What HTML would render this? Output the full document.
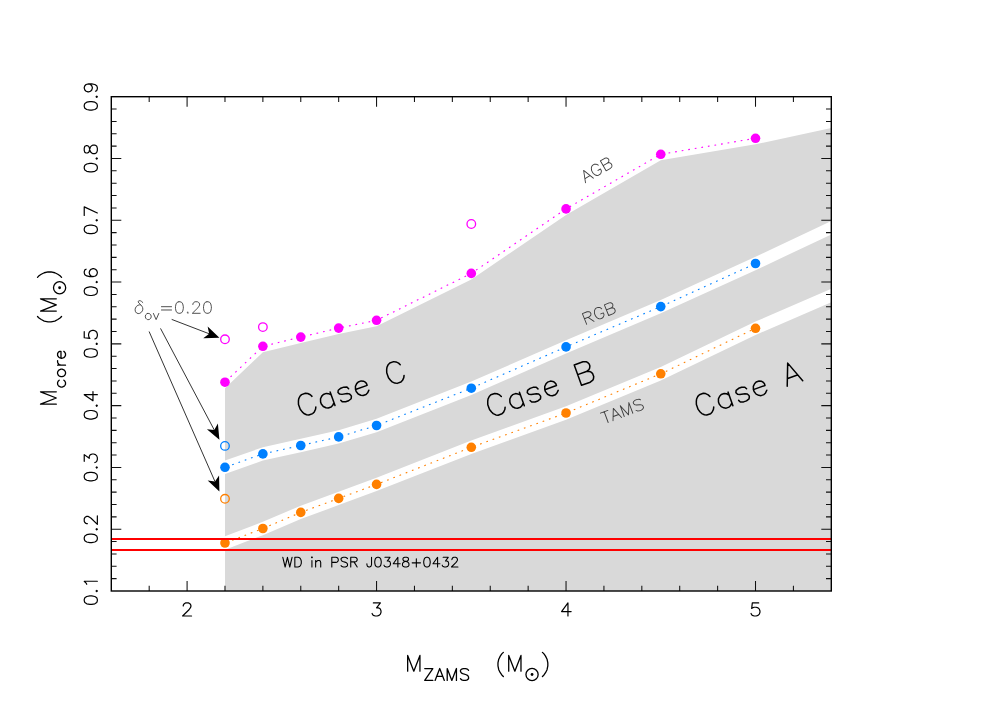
<!DOCTYPE html>
<html lang="en"><head><meta charset="utf-8"><title>Mcore vs MZAMS</title>
<style>html,body{margin:0;padding:0;background:#fff;font-family:"Liberation Sans",sans-serif;}svg{display:block}</style></head>
<body>
<svg width="1002" height="708" viewBox="0 0 1002 708">
<title>Core mass versus ZAMS mass: Case A, Case B, Case C regions</title>
<desc>M_core (M⊙) versus M_ZAMS (M⊙) with TAMS, RGB and AGB core-mass curves, δ_ov=0.20 models, and the WD in PSR J0348+0432.</desc>
<rect width="1002" height="708" fill="#fff"/>
<polygon points="225,591 225,549.7 262.88,535.2 300.77,519.1 338.67,505.1 376.56,491.1 471.3,454 566.04,419.7 660.77,380.5 755.51,335 831.3,302.2 831.3,591" fill="#d9d9d9"/>
<polygon points="225,536.3 262.88,521.8 300.77,505.7 338.67,491.7 376.56,477.7 471.3,440.6 566.04,406.3 660.77,367.1 755.51,321.6 831.3,288.8 831.3,234.4 755.51,270.2 660.77,313.3 566.04,353.6 471.3,394.9 376.56,432.2 338.67,443.6 300.77,452.2 262.88,460.6 225,474" fill="#d9d9d9"/>
<polygon points="225,460.6 262.88,447.2 300.77,438.8 338.67,430.2 376.56,418.8 471.3,381.5 566.04,340.2 660.77,299.9 755.51,256.8 831.3,221 831.3,127.9 755.51,144.3 660.77,160.3 566.04,214.9 471.3,279.4 376.56,326.3 338.67,334.1 300.77,343.1 262.88,352.3 225,388.2" fill="#d9d9d9"/>
<polyline points="224.98,382.2 262.88,346.3 300.77,337.1 338.67,328.1 376.56,320.3 471.3,273.4 566.04,208.9 660.77,154.3 755.51,138.3" fill="none" stroke="#ff00ff" stroke-width="1.1" stroke-dasharray="1.7 4.95" stroke-dashoffset="-1.0"/>
<polyline points="224.98,467.3 262.88,453.9 300.77,445.5 338.67,436.9 376.56,425.5 471.3,388.2 566.04,346.9 660.77,306.6 755.51,263.5" fill="none" stroke="#0080ff" stroke-width="1.1" stroke-dasharray="1.7 4.95" stroke-dashoffset="-1.0"/>
<polyline points="224.98,543 262.88,528.5 300.77,512.4 338.67,498.4 376.56,484.4 471.3,447.3 566.04,413 660.77,373.8 755.51,328.3" fill="none" stroke="#ff8000" stroke-width="1.1" stroke-dasharray="1.7 4.95" stroke-dashoffset="-1.0"/>
<circle cx="224.98" cy="382.2" r="4.8" fill="#ff00ff"/><circle cx="262.88" cy="346.3" r="4.8" fill="#ff00ff"/><circle cx="300.77" cy="337.1" r="4.8" fill="#ff00ff"/><circle cx="338.67" cy="328.1" r="4.8" fill="#ff00ff"/><circle cx="376.56" cy="320.3" r="4.8" fill="#ff00ff"/><circle cx="471.3" cy="273.4" r="4.8" fill="#ff00ff"/><circle cx="566.04" cy="208.9" r="4.8" fill="#ff00ff"/><circle cx="660.77" cy="154.3" r="4.8" fill="#ff00ff"/><circle cx="755.51" cy="138.3" r="4.8" fill="#ff00ff"/>
<circle cx="224.98" cy="467.3" r="4.8" fill="#0080ff"/><circle cx="262.88" cy="453.9" r="4.8" fill="#0080ff"/><circle cx="300.77" cy="445.5" r="4.8" fill="#0080ff"/><circle cx="338.67" cy="436.9" r="4.8" fill="#0080ff"/><circle cx="376.56" cy="425.5" r="4.8" fill="#0080ff"/><circle cx="471.3" cy="388.2" r="4.8" fill="#0080ff"/><circle cx="566.04" cy="346.9" r="4.8" fill="#0080ff"/><circle cx="660.77" cy="306.6" r="4.8" fill="#0080ff"/><circle cx="755.51" cy="263.5" r="4.8" fill="#0080ff"/>
<circle cx="224.98" cy="543" r="4.8" fill="#ff8000"/><circle cx="262.88" cy="528.5" r="4.8" fill="#ff8000"/><circle cx="300.77" cy="512.4" r="4.8" fill="#ff8000"/><circle cx="338.67" cy="498.4" r="4.8" fill="#ff8000"/><circle cx="376.56" cy="484.4" r="4.8" fill="#ff8000"/><circle cx="471.3" cy="447.3" r="4.8" fill="#ff8000"/><circle cx="566.04" cy="413" r="4.8" fill="#ff8000"/><circle cx="660.77" cy="373.8" r="4.8" fill="#ff8000"/><circle cx="755.51" cy="328.3" r="4.8" fill="#ff8000"/>
<circle cx="224.98" cy="339.3" r="4.3" fill="none" stroke="#ff00ff" stroke-width="1.3"/><circle cx="262.88" cy="327.1" r="4.3" fill="none" stroke="#ff00ff" stroke-width="1.3"/><circle cx="471.3" cy="224" r="4.3" fill="none" stroke="#ff00ff" stroke-width="1.3"/>
<circle cx="224.98" cy="445.9" r="4.3" fill="none" stroke="#0080ff" stroke-width="1.3"/>
<circle cx="224.98" cy="498.8" r="4.3" fill="none" stroke="#ff8000" stroke-width="1.3"/>
<line x1="111.3" y1="539.0" x2="831.3" y2="539.0" stroke="#ff0000" stroke-width="2"/>
<line x1="111.3" y1="550.0" x2="831.3" y2="550.0" stroke="#ff0000" stroke-width="2"/>
<path d="M149.19 591.0v-5.3M149.19 96.7v5.3M187.09 591.0v-10.0M187.09 96.7v10.0M224.98 591.0v-5.3M224.98 96.7v5.3M262.88 591.0v-5.3M262.88 96.7v5.3M300.77 591.0v-5.3M300.77 96.7v5.3M338.67 591.0v-5.3M338.67 96.7v5.3M376.56 591.0v-10.0M376.56 96.7v10.0M414.46 591.0v-5.3M414.46 96.7v5.3M452.35 591.0v-5.3M452.35 96.7v5.3M490.25 591.0v-5.3M490.25 96.7v5.3M528.14 591.0v-5.3M528.14 96.7v5.3M566.04 591.0v-10.0M566.04 96.7v10.0M603.93 591.0v-5.3M603.93 96.7v5.3M641.83 591.0v-5.3M641.83 96.7v5.3M679.72 591.0v-5.3M679.72 96.7v5.3M717.62 591.0v-5.3M717.62 96.7v5.3M755.51 591.0v-10.0M755.51 96.7v10.0M793.41 591.0v-5.3M793.41 96.7v5.3M111.3 578.64h5.3M831.3 578.64h-5.3M111.3 566.28h5.3M831.3 566.28h-5.3M111.3 553.93h5.3M831.3 553.93h-5.3M111.3 541.57h5.3M831.3 541.57h-5.3M111.3 529.21h10.0M831.3 529.21h-10.0M111.3 516.86h5.3M831.3 516.86h-5.3M111.3 504.5h5.3M831.3 504.5h-5.3M111.3 492.14h5.3M831.3 492.14h-5.3M111.3 479.78h5.3M831.3 479.78h-5.3M111.3 467.42h10.0M831.3 467.42h-10.0M111.3 455.07h5.3M831.3 455.07h-5.3M111.3 442.71h5.3M831.3 442.71h-5.3M111.3 430.35h5.3M831.3 430.35h-5.3M111.3 418h5.3M831.3 418h-5.3M111.3 405.64h10.0M831.3 405.64h-10.0M111.3 393.28h5.3M831.3 393.28h-5.3M111.3 380.92h5.3M831.3 380.92h-5.3M111.3 368.56h5.3M831.3 368.56h-5.3M111.3 356.21h5.3M831.3 356.21h-5.3M111.3 343.85h10.0M831.3 343.85h-10.0M111.3 331.49h5.3M831.3 331.49h-5.3M111.3 319.13h5.3M831.3 319.13h-5.3M111.3 306.78h5.3M831.3 306.78h-5.3M111.3 294.42h5.3M831.3 294.42h-5.3M111.3 282.06h10.0M831.3 282.06h-10.0M111.3 269.71h5.3M831.3 269.71h-5.3M111.3 257.35h5.3M831.3 257.35h-5.3M111.3 244.99h5.3M831.3 244.99h-5.3M111.3 232.63h5.3M831.3 232.63h-5.3M111.3 220.28h10.0M831.3 220.28h-10.0M111.3 207.92h5.3M831.3 207.92h-5.3M111.3 195.56h5.3M831.3 195.56h-5.3M111.3 183.2h5.3M831.3 183.2h-5.3M111.3 170.84h5.3M831.3 170.84h-5.3M111.3 158.49h10.0M831.3 158.49h-10.0M111.3 146.13h5.3M831.3 146.13h-5.3M111.3 133.77h5.3M831.3 133.77h-5.3M111.3 121.42h5.3M831.3 121.42h-5.3M111.3 109.06h5.3M831.3 109.06h-5.3" fill="none" stroke="#111" stroke-width="1.05"/>
<rect x="111.3" y="96.7" width="720.0" height="494.3" fill="none" stroke="#000" stroke-width="1.4"/>
<g role="img" aria-label="2" transform="translate(187.09 616) translate(-6.38 0)" fill="none" stroke="#000" stroke-width="1.2" stroke-linecap="round" stroke-linejoin="round"><title>2</title><path d="M2.55 -10 2.55 -10.62 3.19 -11.88 3.82 -12.5 5.1 -13.12 7.65 -13.12 8.92 -12.5 9.56 -11.88 10.2 -10.62 10.2 -9.38 9.56 -8.12 8.29 -6.25 1.91 0 10.84 0"/></g>
<g role="img" aria-label="3" transform="translate(376.56 616) translate(-6.38 0)" fill="none" stroke="#000" stroke-width="1.2" stroke-linecap="round" stroke-linejoin="round"><title>3</title><path d="M3.19 -13.12 10.2 -13.12 6.38 -8.12 8.29 -8.12 9.56 -7.5 10.2 -6.88 10.84 -5 10.84 -3.75 10.2 -1.88 8.92 -0.62 7.01 0 5.1 0 3.19 -0.62 2.55 -1.25 1.91 -2.5"/></g>
<g role="img" aria-label="4" transform="translate(566.04 616) translate(-6.38 0)" fill="none" stroke="#000" stroke-width="1.2" stroke-linecap="round" stroke-linejoin="round"><title>4</title><path d="M8.29 0 8.29 -13.12 1.91 -4.38 11.47 -4.38"/></g>
<g role="img" aria-label="5" transform="translate(755.51 616) translate(-6.38 0)" fill="none" stroke="#000" stroke-width="1.2" stroke-linecap="round" stroke-linejoin="round"><title>5</title><path d="M9.56 -13.12 3.19 -13.12 2.55 -7.5 3.19 -8.12 5.1 -8.75 7.01 -8.75 8.92 -8.12 10.2 -6.88 10.84 -5 10.84 -3.75 10.2 -1.88 8.92 -0.62 7.01 0 5.1 0 3.19 -0.62 2.55 -1.25 1.91 -2.5"/></g>
<g role="img" aria-label="0.1" transform="translate(97.35 591) rotate(-90) translate(-15.25 0)" fill="none" stroke="#000" stroke-width="1.2" stroke-linecap="round" stroke-linejoin="round"><title>0.1</title><path d="M5.49 -13.12 6.71 -13.12 8.54 -12.5 9.76 -10.62 10.37 -7.5 10.37 -5.62 9.76 -2.5 8.54 -0.62 6.71 0 5.49 0 3.66 -0.62 2.44 -2.5 1.83 -5.62 1.83 -7.5 2.44 -10.62 3.66 -12.5 5.49 -13.12M15.25 -1.25 14.64 -0.62 15.25 0 15.86 -0.62 15.25 -1.25M25.01 0 25.01 -13.12 23.18 -11.25 21.96 -10.62"/></g>
<g role="img" aria-label="0.2" transform="translate(97.35 529.21) rotate(-90) translate(-15.25 0)" fill="none" stroke="#000" stroke-width="1.2" stroke-linecap="round" stroke-linejoin="round"><title>0.2</title><path d="M5.49 -13.12 6.71 -13.12 8.54 -12.5 9.76 -10.62 10.37 -7.5 10.37 -5.62 9.76 -2.5 8.54 -0.62 6.71 0 5.49 0 3.66 -0.62 2.44 -2.5 1.83 -5.62 1.83 -7.5 2.44 -10.62 3.66 -12.5 5.49 -13.12M15.25 -1.25 14.64 -0.62 15.25 0 15.86 -0.62 15.25 -1.25M20.74 -10 20.74 -10.62 21.35 -11.88 21.96 -12.5 23.18 -13.12 25.62 -13.12 26.84 -12.5 27.45 -11.88 28.06 -10.62 28.06 -9.38 27.45 -8.12 26.23 -6.25 20.13 0 28.67 0"/></g>
<g role="img" aria-label="0.3" transform="translate(97.35 467.43) rotate(-90) translate(-15.25 0)" fill="none" stroke="#000" stroke-width="1.2" stroke-linecap="round" stroke-linejoin="round"><title>0.3</title><path d="M5.49 -13.12 6.71 -13.12 8.54 -12.5 9.76 -10.62 10.37 -7.5 10.37 -5.62 9.76 -2.5 8.54 -0.62 6.71 0 5.49 0 3.66 -0.62 2.44 -2.5 1.83 -5.62 1.83 -7.5 2.44 -10.62 3.66 -12.5 5.49 -13.12M15.25 -1.25 14.64 -0.62 15.25 0 15.86 -0.62 15.25 -1.25M21.35 -13.12 28.06 -13.12 24.4 -8.12 26.23 -8.12 27.45 -7.5 28.06 -6.88 28.67 -5 28.67 -3.75 28.06 -1.88 26.84 -0.62 25.01 0 23.18 0 21.35 -0.62 20.74 -1.25 20.13 -2.5"/></g>
<g role="img" aria-label="0.4" transform="translate(97.35 405.64) rotate(-90) translate(-15.25 0)" fill="none" stroke="#000" stroke-width="1.2" stroke-linecap="round" stroke-linejoin="round"><title>0.4</title><path d="M5.49 -13.12 6.71 -13.12 8.54 -12.5 9.76 -10.62 10.37 -7.5 10.37 -5.62 9.76 -2.5 8.54 -0.62 6.71 0 5.49 0 3.66 -0.62 2.44 -2.5 1.83 -5.62 1.83 -7.5 2.44 -10.62 3.66 -12.5 5.49 -13.12M15.25 -1.25 14.64 -0.62 15.25 0 15.86 -0.62 15.25 -1.25M26.23 0 26.23 -13.12 20.13 -4.38 29.28 -4.38"/></g>
<g role="img" aria-label="0.5" transform="translate(97.35 343.85) rotate(-90) translate(-15.25 0)" fill="none" stroke="#000" stroke-width="1.2" stroke-linecap="round" stroke-linejoin="round"><title>0.5</title><path d="M5.49 -13.12 6.71 -13.12 8.54 -12.5 9.76 -10.62 10.37 -7.5 10.37 -5.62 9.76 -2.5 8.54 -0.62 6.71 0 5.49 0 3.66 -0.62 2.44 -2.5 1.83 -5.62 1.83 -7.5 2.44 -10.62 3.66 -12.5 5.49 -13.12M15.25 -1.25 14.64 -0.62 15.25 0 15.86 -0.62 15.25 -1.25M27.45 -13.12 21.35 -13.12 20.74 -7.5 21.35 -8.12 23.18 -8.75 25.01 -8.75 26.84 -8.12 28.06 -6.88 28.67 -5 28.67 -3.75 28.06 -1.88 26.84 -0.62 25.01 0 23.18 0 21.35 -0.62 20.74 -1.25 20.13 -2.5"/></g>
<g role="img" aria-label="0.6" transform="translate(97.35 282.06) rotate(-90) translate(-15.25 0)" fill="none" stroke="#000" stroke-width="1.2" stroke-linecap="round" stroke-linejoin="round"><title>0.6</title><path d="M5.49 -13.12 6.71 -13.12 8.54 -12.5 9.76 -10.62 10.37 -7.5 10.37 -5.62 9.76 -2.5 8.54 -0.62 6.71 0 5.49 0 3.66 -0.62 2.44 -2.5 1.83 -5.62 1.83 -7.5 2.44 -10.62 3.66 -12.5 5.49 -13.12M15.25 -1.25 14.64 -0.62 15.25 0 15.86 -0.62 15.25 -1.25M28.06 -11.25 27.45 -12.5 25.62 -13.12 24.4 -13.12 22.57 -12.5 21.35 -10.62 20.74 -7.5 20.74 -4.38 21.35 -6.25 22.57 -7.5 24.4 -8.12 25.01 -8.12 26.84 -7.5 28.06 -6.25 28.67 -4.38 28.67 -3.75 28.06 -1.88 26.84 -0.62 25.01 0 24.4 0 22.57 -0.62 21.35 -1.88 20.74 -4.38"/></g>
<g role="img" aria-label="0.7" transform="translate(97.35 220.28) rotate(-90) translate(-15.25 0)" fill="none" stroke="#000" stroke-width="1.2" stroke-linecap="round" stroke-linejoin="round"><title>0.7</title><path d="M5.49 -13.12 6.71 -13.12 8.54 -12.5 9.76 -10.62 10.37 -7.5 10.37 -5.62 9.76 -2.5 8.54 -0.62 6.71 0 5.49 0 3.66 -0.62 2.44 -2.5 1.83 -5.62 1.83 -7.5 2.44 -10.62 3.66 -12.5 5.49 -13.12M15.25 -1.25 14.64 -0.62 15.25 0 15.86 -0.62 15.25 -1.25M20.13 -13.12 28.67 -13.12 22.57 0"/></g>
<g role="img" aria-label="0.8" transform="translate(97.35 158.49) rotate(-90) translate(-15.25 0)" fill="none" stroke="#000" stroke-width="1.2" stroke-linecap="round" stroke-linejoin="round"><title>0.8</title><path d="M5.49 -13.12 6.71 -13.12 8.54 -12.5 9.76 -10.62 10.37 -7.5 10.37 -5.62 9.76 -2.5 8.54 -0.62 6.71 0 5.49 0 3.66 -0.62 2.44 -2.5 1.83 -5.62 1.83 -7.5 2.44 -10.62 3.66 -12.5 5.49 -13.12M15.25 -1.25 14.64 -0.62 15.25 0 15.86 -0.62 15.25 -1.25M23.18 -13.12 25.62 -13.12 27.45 -12.5 28.06 -11.25 28.06 -10 27.45 -8.75 26.23 -8.12 23.79 -7.5 21.96 -6.88 20.74 -5.62 20.13 -4.38 20.13 -2.5 20.74 -1.25 21.35 -0.62 23.18 0 25.62 0 27.45 -0.62 28.06 -1.25 28.67 -2.5 28.67 -4.38 28.06 -5.62 26.84 -6.88 25.01 -7.5 22.57 -8.12 21.35 -8.75 20.74 -10 20.74 -11.25 21.35 -12.5 23.18 -13.12"/></g>
<g role="img" aria-label="0.9" transform="translate(97.35 96.7) rotate(-90) translate(-15.25 0)" fill="none" stroke="#000" stroke-width="1.2" stroke-linecap="round" stroke-linejoin="round"><title>0.9</title><path d="M5.49 -13.12 6.71 -13.12 8.54 -12.5 9.76 -10.62 10.37 -7.5 10.37 -5.62 9.76 -2.5 8.54 -0.62 6.71 0 5.49 0 3.66 -0.62 2.44 -2.5 1.83 -5.62 1.83 -7.5 2.44 -10.62 3.66 -12.5 5.49 -13.12M15.25 -1.25 14.64 -0.62 15.25 0 15.86 -0.62 15.25 -1.25M28.06 -8.75 27.45 -11.25 26.23 -12.5 24.4 -13.12 23.79 -13.12 21.96 -12.5 20.74 -11.25 20.13 -9.38 20.13 -8.75 20.74 -6.88 21.96 -5.62 23.79 -5 24.4 -5 26.23 -5.62 27.45 -6.88 28.06 -8.75 28.06 -5.62 27.45 -2.5 26.23 -0.62 24.4 0 23.18 0 21.35 -0.62 20.74 -1.88"/></g>
<g role="img" aria-label="M_ZAMS" transform="translate(404.6 671.2)" fill="none" stroke="#000" stroke-width="1.3" stroke-linecap="round" stroke-linejoin="round"><title>M_ZAMS</title><path d="M3.07 0 3.07 -15.79 9.2 0 15.34 -15.79 15.34 0M20.14 -2.66 28.21 -2.66 20.14 9.2 28.21 9.2M30.51 9.2 35.12 -2.66 39.73 9.2M32.24 5.24 38 5.24M42.61 9.2 42.61 -2.66 47.22 9.2 51.83 -2.66 51.83 9.2M63.94 -0.97 62.78 -2.1 61.06 -2.66 58.75 -2.66 57.02 -2.1 55.87 -0.97 55.87 0.16 56.44 1.29 57.02 1.86 58.17 2.42 61.63 3.55 62.78 4.12 63.36 4.68 63.94 5.81 63.94 7.5 62.78 8.63 61.06 9.2 58.75 9.2 57.02 8.63 55.87 7.5"/></g>
<g role="img" aria-label="(M⊙)" transform="translate(494.9 671.2)" fill="none" stroke="#000" stroke-width="1.3" stroke-linecap="round" stroke-linejoin="round"><title>(M⊙)</title><path d="M8.44 -18.8 6.9 -17.3 5.37 -15.04 3.84 -12.03 3.07 -8.27 3.07 -5.26 3.84 -1.5 5.37 1.5 6.9 3.76 8.44 5.26M13.81 0 13.81 -15.79 19.94 0 26.08 -15.79 26.08 0M47.55 -18.8 49.08 -17.3 50.62 -15.04 52.15 -12.03 52.92 -8.27 52.92 -5.26 52.15 -1.5 50.62 1.5 49.08 3.76 47.55 5.26"/><circle cx="37.15" cy="3.3" r="6.1"/><circle cx="37.15" cy="3.3" r="1.4" fill="#000" stroke="none"/></g>
<g role="img" aria-label="M_core" transform="translate(56.3 407.2) rotate(-90)" fill="none" stroke="#000" stroke-width="1.3" stroke-linecap="round" stroke-linejoin="round"><title>M_core</title><path d="M3.07 0 3.07 -15.79 9.2 0 15.34 -15.79 15.34 0M27.05 2.98 25.9 1.86 24.75 1.29 23.02 1.29 21.87 1.86 20.71 2.98 20.14 4.68 20.14 5.81 20.71 7.5 21.87 8.63 23.02 9.2 24.75 9.2 25.9 8.63 27.05 7.5M33.39 1.29 35.12 1.29 36.27 1.86 37.43 2.98 38 4.68 38 5.81 37.43 7.5 36.27 8.63 35.12 9.2 33.39 9.2 32.24 8.63 31.09 7.5 30.51 5.81 30.51 4.68 31.09 2.98 32.24 1.86 33.39 1.29M42.04 1.29 42.04 9.2M46.65 1.29 44.92 1.29 43.77 1.86 42.61 2.98 42.04 4.68M48.95 4.68 49.53 2.98 50.68 1.86 51.83 1.29 53.56 1.29 54.72 1.86 55.29 2.42 55.87 3.55 55.87 4.68 48.95 4.68 48.95 5.81 49.53 7.5 50.68 8.63 51.83 9.2 53.56 9.2 54.72 8.63 55.87 7.5"/></g>
<g role="img" aria-label="(M⊙)" transform="translate(56.3 324.9) rotate(-90)" fill="none" stroke="#000" stroke-width="1.3" stroke-linecap="round" stroke-linejoin="round"><title>(M⊙)</title><path d="M8.44 -18.8 6.9 -17.3 5.37 -15.04 3.84 -12.03 3.07 -8.27 3.07 -5.26 3.84 -1.5 5.37 1.5 6.9 3.76 8.44 5.26M13.81 0 13.81 -15.79 19.94 0 26.08 -15.79 26.08 0M47.55 -18.8 49.08 -17.3 50.62 -15.04 52.15 -12.03 52.92 -8.27 52.92 -5.26 52.15 -1.5 50.62 1.5 49.08 3.76 47.55 5.26"/><circle cx="37.15" cy="3.3" r="6.1"/><circle cx="37.15" cy="3.3" r="1.4" fill="#000" stroke="none"/></g>
<g role="img" aria-label="Case C" transform="translate(300.1 418.1) rotate(-19.7)" fill="none" stroke="#000" stroke-width="1.5" stroke-linecap="round" stroke-linejoin="round"><title>Case C</title><path d="M18.54 -16.48 17.51 -18.54 15.45 -20.6 13.39 -21.63 9.27 -21.63 7.21 -20.6 5.15 -18.54 4.12 -16.48 3.09 -13.39 3.09 -8.24 4.12 -5.15 5.15 -3.09 7.21 -1.03 9.27 0 13.39 0 15.45 -1.03 17.51 -3.09 18.54 -5.15M37.08 -14.42 37.08 0M37.08 -11.33 35.02 -13.39 32.96 -14.42 29.87 -14.42 27.81 -13.39 25.75 -11.33 24.72 -8.24 24.72 -6.18 25.75 -3.09 27.81 -1.03 29.87 0 32.96 0 35.02 -1.03 37.08 -3.09M55.62 -11.33 54.59 -13.39 51.5 -14.42 48.41 -14.42 45.32 -13.39 44.29 -11.33 45.32 -9.27 47.38 -8.24 52.53 -7.21 54.59 -6.18 55.62 -4.12 55.62 -3.09 54.59 -1.03 51.5 0 48.41 0 45.32 -1.03 44.29 -3.09M61.8 -8.24 62.83 -11.33 64.89 -13.39 66.95 -14.42 70.04 -14.42 72.1 -13.39 73.13 -12.36 74.16 -10.3 74.16 -8.24 61.8 -8.24 61.8 -6.18 62.83 -3.09 64.89 -1.03 66.95 0 70.04 0 72.1 -1.03 74.16 -3.09M112.27 -16.48 111.24 -18.54 109.18 -20.6 107.12 -21.63 103 -21.63 100.94 -20.6 98.88 -18.54 97.85 -16.48 96.82 -13.39 96.82 -8.24 97.85 -5.15 98.88 -3.09 100.94 -1.03 103 0 107.12 0 109.18 -1.03 111.24 -3.09 112.27 -5.15"/></g>
<g role="img" aria-label="Case B" transform="translate(489.4 418.3) rotate(-19.7)" fill="none" stroke="#000" stroke-width="1.5" stroke-linecap="round" stroke-linejoin="round"><title>Case B</title><path d="M18.54 -16.48 17.51 -18.54 15.45 -20.6 13.39 -21.63 9.27 -21.63 7.21 -20.6 5.15 -18.54 4.12 -16.48 3.09 -13.39 3.09 -8.24 4.12 -5.15 5.15 -3.09 7.21 -1.03 9.27 0 13.39 0 15.45 -1.03 17.51 -3.09 18.54 -5.15M37.08 -14.42 37.08 0M37.08 -11.33 35.02 -13.39 32.96 -14.42 29.87 -14.42 27.81 -13.39 25.75 -11.33 24.72 -8.24 24.72 -6.18 25.75 -3.09 27.81 -1.03 29.87 0 32.96 0 35.02 -1.03 37.08 -3.09M55.62 -11.33 54.59 -13.39 51.5 -14.42 48.41 -14.42 45.32 -13.39 44.29 -11.33 45.32 -9.27 47.38 -8.24 52.53 -7.21 54.59 -6.18 55.62 -4.12 55.62 -3.09 54.59 -1.03 51.5 0 48.41 0 45.32 -1.03 44.29 -3.09M61.8 -8.24 62.83 -11.33 64.89 -13.39 66.95 -14.42 70.04 -14.42 72.1 -13.39 73.13 -12.36 74.16 -10.3 74.16 -8.24 61.8 -8.24 61.8 -6.18 62.83 -3.09 64.89 -1.03 66.95 0 70.04 0 72.1 -1.03 74.16 -3.09M107.12 -11.33 110.21 -12.36 111.24 -13.39 112.27 -15.45 112.27 -17.51 111.24 -19.57 110.21 -20.6 107.12 -21.63 97.85 -21.63 97.85 0 107.12 0 110.21 -1.03 111.24 -2.06 112.27 -4.12 112.27 -7.21 111.24 -9.27 110.21 -10.3 107.12 -11.33 97.85 -11.33"/></g>
<g role="img" aria-label="Case A" transform="translate(698 418.2) rotate(-19.7)" fill="none" stroke="#000" stroke-width="1.5" stroke-linecap="round" stroke-linejoin="round"><title>Case A</title><path d="M18.54 -16.48 17.51 -18.54 15.45 -20.6 13.39 -21.63 9.27 -21.63 7.21 -20.6 5.15 -18.54 4.12 -16.48 3.09 -13.39 3.09 -8.24 4.12 -5.15 5.15 -3.09 7.21 -1.03 9.27 0 13.39 0 15.45 -1.03 17.51 -3.09 18.54 -5.15M37.08 -14.42 37.08 0M37.08 -11.33 35.02 -13.39 32.96 -14.42 29.87 -14.42 27.81 -13.39 25.75 -11.33 24.72 -8.24 24.72 -6.18 25.75 -3.09 27.81 -1.03 29.87 0 32.96 0 35.02 -1.03 37.08 -3.09M55.62 -11.33 54.59 -13.39 51.5 -14.42 48.41 -14.42 45.32 -13.39 44.29 -11.33 45.32 -9.27 47.38 -8.24 52.53 -7.21 54.59 -6.18 55.62 -4.12 55.62 -3.09 54.59 -1.03 51.5 0 48.41 0 45.32 -1.03 44.29 -3.09M61.8 -8.24 62.83 -11.33 64.89 -13.39 66.95 -14.42 70.04 -14.42 72.1 -13.39 73.13 -12.36 74.16 -10.3 74.16 -8.24 61.8 -8.24 61.8 -6.18 62.83 -3.09 64.89 -1.03 66.95 0 70.04 0 72.1 -1.03 74.16 -3.09M94.76 0 103 -21.63 111.24 0M97.85 -7.21 108.15 -7.21"/></g>
<g role="img" aria-label="AGB" transform="translate(585 183) rotate(-30)" fill="none" stroke="#3c3c3c" stroke-width="0.9" stroke-linecap="round" stroke-linejoin="round"><title>AGB</title><path d="M0.57 0 5.1 -11.55 9.63 0M2.27 -3.85 7.93 -3.85M20.39 -8.8 19.83 -9.9 18.69 -11 17.56 -11.55 15.3 -11.55 14.16 -11 13.03 -9.9 12.46 -8.8 11.9 -7.15 11.9 -4.4 12.46 -2.75 13.03 -1.65 14.16 -0.55 15.3 0 17.56 0 18.69 -0.55 19.83 -1.65 20.39 -2.75 20.39 -4.4 17.56 -4.4M29.46 -6.05 31.16 -6.6 31.72 -7.15 32.29 -8.25 32.29 -9.35 31.72 -10.45 31.16 -11 29.46 -11.55 24.36 -11.55 24.36 0 29.46 0 31.16 -0.55 31.72 -1.1 32.29 -2.2 32.29 -3.85 31.72 -4.95 31.16 -5.5 29.46 -6.05 24.36 -6.05"/></g>
<g role="img" aria-label="RGB" transform="translate(584.6 325.2) rotate(-22)" fill="none" stroke="#3c3c3c" stroke-width="0.9" stroke-linecap="round" stroke-linejoin="round"><title>RGB</title><path d="M2.26 0 2.26 -11.51 7.34 -11.51 9.03 -10.96 9.6 -10.41 10.16 -9.32 10.16 -8.22 9.6 -7.12 9.03 -6.58 7.34 -6.03 2.26 -6.03M6.21 -6.03 10.16 0M22.01 -8.77 21.45 -9.86 20.32 -10.96 19.19 -11.51 16.93 -11.51 15.8 -10.96 14.68 -9.86 14.11 -8.77 13.55 -7.12 13.55 -4.38 14.11 -2.74 14.68 -1.64 15.8 -0.55 16.93 0 19.19 0 20.32 -0.55 21.45 -1.64 22.01 -2.74 22.01 -4.38 19.19 -4.38M31.04 -6.03 32.74 -6.58 33.3 -7.12 33.87 -8.22 33.87 -9.32 33.3 -10.41 32.74 -10.96 31.04 -11.51 25.96 -11.51 25.96 0 31.04 0 32.74 -0.55 33.3 -1.1 33.87 -2.19 33.87 -3.84 33.3 -4.93 32.74 -5.48 31.04 -6.03 25.96 -6.03"/></g>
<g role="img" aria-label="TAMS" transform="translate(603.9 424.1) rotate(-20.5)" fill="none" stroke="#3c3c3c" stroke-width="0.9" stroke-linecap="round" stroke-linejoin="round"><title>TAMS</title><path d="M0.57 -11.45 8.58 -11.45M4.58 -11.45 4.58 0M9.73 0 14.31 -11.45 18.88 0M11.45 -3.82 17.17 -3.82M21.75 0 21.75 -11.45 26.32 0 30.9 -11.45 30.9 0M42.92 -9.81 41.77 -10.9 40.06 -11.45 37.77 -11.45 36.05 -10.9 34.91 -9.81 34.91 -8.72 35.48 -7.63 36.05 -7.09 37.2 -6.54 40.63 -5.45 41.77 -4.91 42.35 -4.36 42.92 -3.27 42.92 -1.64 41.77 -0.55 40.06 0 37.77 0 36.05 -0.55 34.91 -1.64"/></g>
<g role="img" aria-label="WD in PSR J0348+0432" transform="translate(281.9 567)" fill="none" stroke="#000" stroke-width="1.1" stroke-linecap="round" stroke-linejoin="round"><title>WD in PSR J0348+0432</title><path d="M0.92 -9.7 3.23 0 5.54 -9.7 7.85 0 10.16 -9.7M12.94 -9.7 16.17 -9.7 17.56 -9.24 18.48 -8.32 18.94 -7.39 19.4 -6.01 19.4 -3.7 18.94 -2.31 18.48 -1.39 17.56 -0.46 16.17 0 12.94 0 12.94 -9.7M30.03 -6.47 30.03 0M30.03 -10.16 29.57 -9.7 30.03 -9.24 30.49 -9.7 30.03 -10.16M33.73 -6.47 33.73 0M33.73 -4.62 35.11 -6.01 36.04 -6.47 37.42 -6.47 38.35 -6.01 38.81 -4.62 38.81 0M49.9 0 49.9 -9.7 54.05 -9.7 55.44 -9.24 55.9 -8.78 56.36 -7.85 56.36 -6.47 55.9 -5.54 55.44 -5.08 54.05 -4.62 49.9 -4.62M65.6 -8.32 64.68 -9.24 63.29 -9.7 61.45 -9.7 60.06 -9.24 59.14 -8.32 59.14 -7.39 59.6 -6.47 60.06 -6.01 60.98 -5.54 63.76 -4.62 64.68 -4.16 65.14 -3.7 65.6 -2.77 65.6 -1.39 64.68 -0.46 63.29 0 61.45 0 60.06 -0.46 59.14 -1.39M68.84 0 68.84 -9.7 73 -9.7 74.38 -9.24 74.84 -8.78 75.31 -7.85 75.31 -6.93 74.84 -6.01 74.38 -5.54 73 -5.08 68.84 -5.08M72.07 -5.08 75.31 0M89.63 -9.7 89.63 -2.31 89.17 -0.92 88.7 -0.46 87.78 0 86.86 0 85.93 -0.46 85.47 -0.92 85.01 -2.31 85.01 -3.23M95.63 -9.7 96.56 -9.7 97.94 -9.24 98.87 -7.85 99.33 -5.54 99.33 -4.16 98.87 -1.85 97.94 -0.46 96.56 0 95.63 0 94.25 -0.46 93.32 -1.85 92.86 -4.16 92.86 -5.54 93.32 -7.85 94.25 -9.24 95.63 -9.7M103.03 -9.7 108.11 -9.7 105.34 -6.01 106.72 -6.01 107.65 -5.54 108.11 -5.08 108.57 -3.7 108.57 -2.77 108.11 -1.39 107.18 -0.46 105.8 0 104.41 0 103.03 -0.46 102.56 -0.92 102.1 -1.85M115.96 0 115.96 -9.7 111.34 -3.23 118.27 -3.23M122.89 -9.7 124.74 -9.7 126.13 -9.24 126.59 -8.32 126.59 -7.39 126.13 -6.47 125.2 -6.01 123.35 -5.54 121.97 -5.08 121.04 -4.16 120.58 -3.23 120.58 -1.85 121.04 -0.92 121.51 -0.46 122.89 0 124.74 0 126.13 -0.46 126.59 -0.92 127.05 -1.85 127.05 -3.23 126.59 -4.16 125.66 -5.08 124.28 -5.54 122.43 -6.01 121.51 -6.47 121.04 -7.39 121.04 -8.32 121.51 -9.24 122.89 -9.7M134.44 -8.32 134.44 0M130.28 -4.16 138.6 -4.16M144.61 -9.7 145.53 -9.7 146.92 -9.24 147.84 -7.85 148.3 -5.54 148.3 -4.16 147.84 -1.85 146.92 -0.46 145.53 0 144.61 0 143.22 -0.46 142.3 -1.85 141.83 -4.16 141.83 -5.54 142.3 -7.85 143.22 -9.24 144.61 -9.7M155.69 0 155.69 -9.7 151.07 -3.23 158 -3.23M161.24 -9.7 166.32 -9.7 163.55 -6.01 164.93 -6.01 165.86 -5.54 166.32 -5.08 166.78 -3.7 166.78 -2.77 166.32 -1.39 165.4 -0.46 164.01 0 162.62 0 161.24 -0.46 160.78 -0.92 160.31 -1.85M170.02 -7.39 170.02 -7.85 170.48 -8.78 170.94 -9.24 171.86 -9.7 173.71 -9.7 174.64 -9.24 175.1 -8.78 175.56 -7.85 175.56 -6.93 175.1 -6.01 174.17 -4.62 169.55 0 176.02 0"/></g>
<g role="img" aria-label="δ_ov" transform="translate(144 313.3)" fill="none" stroke="#3c3c3c" stroke-width="0.9" stroke-linecap="round" stroke-linejoin="round"><title>δ_ov</title><path d="M3.59 0.14 4.94 0.14 5.83 0.58 6.73 1.46 7.18 2.78 7.18 3.66 6.73 4.98 5.83 5.86 4.94 6.3 3.59 6.3 2.69 5.86 1.8 4.98 1.35 3.66 1.35 2.78 1.8 1.46 2.69 0.58 3.59 0.14M9.42 0.14 12.12 6.3 14.81 0.14"/></g>
<g role="img" aria-label="=0.20" transform="translate(159.2 313.3)" fill="none" stroke="#3c3c3c" stroke-width="0.9" stroke-linecap="round" stroke-linejoin="round"><title>=0.20</title><path d="M2.24 -6.6 12.34 -6.6M2.24 -3.3 12.34 -3.3M19.64 -11.55 20.76 -11.55 22.44 -11 23.56 -9.35 24.12 -6.6 24.12 -4.95 23.56 -2.2 22.44 -0.55 20.76 0 19.64 0 17.95 -0.55 16.83 -2.2 16.27 -4.95 16.27 -6.6 16.83 -9.35 17.95 -11 19.64 -11.55M28.61 -1.1 28.05 -0.55 28.61 0 29.17 -0.55 28.61 -1.1M33.66 -8.8 33.66 -9.35 34.22 -10.45 34.78 -11 35.9 -11.55 38.15 -11.55 39.27 -11 39.83 -10.45 40.39 -9.35 40.39 -8.25 39.83 -7.15 38.71 -5.5 33.1 0 40.95 0M47.69 -11.55 48.81 -11.55 50.49 -11 51.61 -9.35 52.17 -6.6 52.17 -4.95 51.61 -2.2 50.49 -0.55 48.81 0 47.69 0 46 -0.55 44.88 -2.2 44.32 -4.95 44.32 -6.6 44.88 -9.35 46 -11 47.69 -11.55"/></g>
<path d="M142.76 302.51 141.54 301.38 140.32 300.74 139.14 300.7 138.28 301.24 138.19 302.05 139.05 303.19 140.63 304.68 141.86 306.13 142.62 307.57 142.85 309.16 142.4 310.83 141.31 312.33 139.73 313.37 138.14 313.59 136.56 313 135.52 311.74 135.07 309.84 135.43 308.03 136.43 306.44 137.92 305.31 139.28 304.86 140.5 304.86" fill="none" stroke="#3c3c3c" stroke-width="0.9" stroke-linecap="round" stroke-linejoin="round"/>
<line x1="171.7" y1="319.4" x2="209.13" y2="333.76" stroke="#000" stroke-width="0.8"/><polygon points="219.4,337.7 207.65,326.55 209.13,333.76 203.21,338.13" fill="#000"/>
<line x1="160.5" y1="328.4" x2="214.25" y2="429.98" stroke="#000" stroke-width="0.8"/><polygon points="219.4,439.7 217.88,423.57 214.25,429.98 206.92,429.37" fill="#000"/>
<line x1="149.1" y1="331.5" x2="214.98" y2="481.53" stroke="#000" stroke-width="0.8"/><polygon points="219.4,491.6 219.06,475.4 214.98,481.53 207.71,480.39" fill="#000"/>
</svg>
</body></html>
